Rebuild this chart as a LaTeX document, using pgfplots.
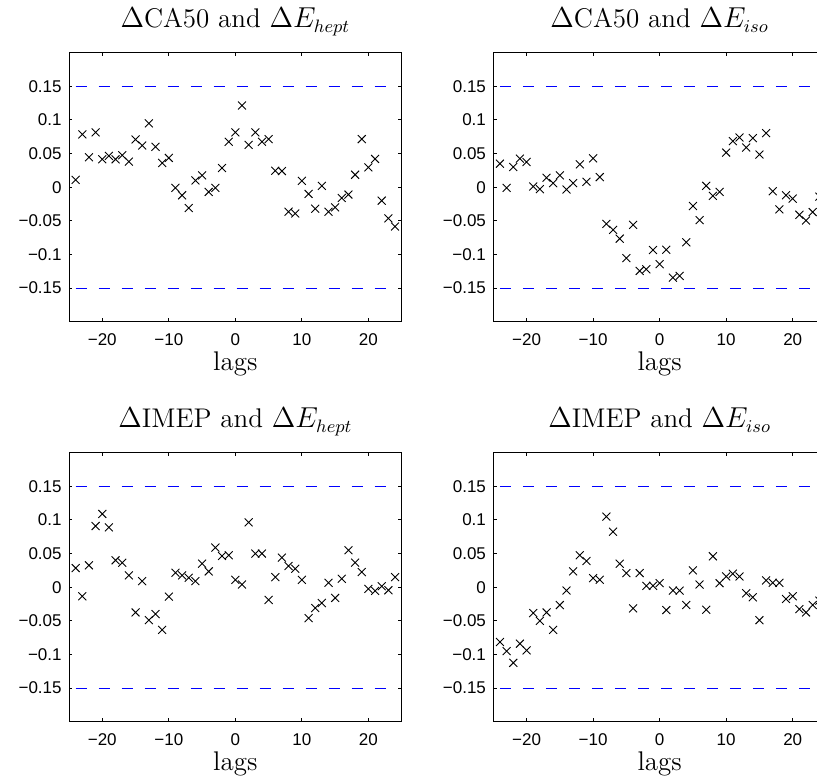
\documentclass[border=0pt]{standalone}
\usepackage{fontspec}
\usepackage{pgfplots}
\usepackage{pgfplotstable}
\pgfplotsset{compat=1.18}
\newfontfamily\tickfont{Liberation Sans}

\pgfplotstableread{
lag a b c d
-24 0.011 0.035 0.0285 -0.0815
-23 0.0785 -0.001 -0.0135 -0.095
-22 0.0445 0.030 0.0325 -0.1125
-21 0.0815 0.0425 0.091 -0.084
-20 0.0415 0.0375 0.109 -0.094
-19 0.0465 0.001 0.089 -0.0385
-18 0.0415 -0.003 0.040 -0.050
-17 0.0475 0.014 0.0365 -0.0375
-16 0.038 0.006 0.0175 -0.0635
-15 0.071 0.0175 -0.0375 -0.0265
-14 0.062 -0.0035 0.009 -0.005
-13 0.095 0.006 -0.049 0.0235
-12 0.060 0.034 -0.040 0.0475
-11 0.036 0.008 -0.0635 0.039
-10 0.0435 0.043 -0.014 0.0135
-9 -0.001 0.015 0.0215 0.011
-8 -0.012 -0.0545 0.0175 0.105
-7 -0.031 -0.0635 0.014 0.0825
-6 0.010 -0.0765 0.009 0.035
-5 0.0175 -0.1055 0.035 0.021
-4 -0.007 -0.056 0.0235 -0.0315
-3 -0.001 -0.1245 0.059 0.021
-2 0.0285 -0.122 0.0465 0.002
-1 0.0675 -0.0935 0.0475 0.002
0 0.0815 -0.1145 0.011 0.006
1 0.1215 -0.093 0.004 -0.034
2 0.063 -0.1345 0.0965 -0.005
3 0.0815 -0.132 0.050 -0.005
4 0.0675 -0.082 0.050 -0.0265
5 0.0715 -0.028 -0.019 0.025
6 0.0245 -0.049 0.015 0.004
7 0.024 0.002 0.044 -0.0335
8 -0.0365 -0.013 0.0315 0.046
9 -0.039 -0.007 0.0275 0.006
10 0.0095 0.0515 0.011 0.016
11 -0.010 0.0685 -0.046 0.020
12 -0.032 0.074 -0.031 0.016
13 0.002 0.059 -0.0235 -0.009
14 -0.0365 0.073 0.0065 -0.015
15 -0.030 0.0485 -0.016 -0.049
16 -0.016 0.0805 0.0125 0.010
17 -0.011 -0.006 0.055 0.0065
18 0.0185 -0.033 0.0365 0.0065
19 0.0715 -0.012 0.0225 -0.0175
20 0.0295 -0.017 -0.0025 -0.0135
21 0.042 -0.041 -0.0055 -0.0325
22 -0.020 -0.0495 0.0015 -0.0375
23 -0.0465 -0.037 -0.0045 -0.0265
24 -0.0585 -0.014 0.015 -0.020
}\lagdata

\pgfplotsset{
  every axis title/.style={at={(0.5,1)}, anchor=base, yshift=12.5pt, font=\fontsize{13.5}{15}\selectfont, inner sep=0pt},
  myax/.style={
    scale only axis, width=166.35pt, height=134.5pt,
    anchor=south west,
    xmin=-25, xmax=25, ymin=-0.2, ymax=0.2,
    axis line style={line width=0.5pt},
    every tick/.style={black, line width=0.5pt},
    major tick length=1.7pt,
    tick align=inside,
    xtick={-20,-10,0,10,20},
    xticklabels={−20,−10,0,10,20},
    ytick={-0.15,-0.1,-0.05,0,0.05,0.1,0.15},
    yticklabels={−0.15,−0.1,−0.05,0,0.05,0.1,0.15},
    ticklabel style={font=\tickfont\fontsize{8.5}{10}\selectfont},
    xticklabel style={anchor=base, yshift=-12pt, inner sep=0pt},
    yticklabel style={anchor=east, xshift=-3.5pt, inner sep=0pt},
    xlabel={lags},
    xlabel style={at={(axis description cs:0.5,0)}, anchor=base, yshift=-24.5pt, font=\fontsize{13.5}{15}\selectfont, inner sep=0pt},
    clip=false,
  },
  pts/.style={only marks, mark=x, mark size=2.8pt, black, mark options={line width=0.45pt}},
  lim/.style={blue, line width=0.5pt, dash pattern=on 5.5pt off 6pt},
}

\begin{document}
\begin{tikzpicture}
\useasboundingbox (0,0) rectangle (408.5pt,390.5pt);
\begin{axis}[myax, at={(34.5pt,229.65pt)}, title={$\Delta$CA50 and $\Delta E_{hept}$}]
\addplot[lim] coordinates {(-24,0.15) (24,0.15)};
\addplot[lim] coordinates {(-24,-0.15) (24,-0.15)};
\addplot[pts] table[x=lag, y=a] {\lagdata};
\end{axis}
\begin{axis}[myax, at={(246.65pt,229.65pt)}, title={$\Delta$CA50 and $\Delta E_{iso}$}]
\addplot[lim] coordinates {(-24,0.15) (24,0.15)};
\addplot[lim] coordinates {(-24,-0.15) (24,-0.15)};
\addplot[pts] table[x=lag, y=b] {\lagdata};
\end{axis}
\begin{axis}[myax, at={(34.5pt,29.65pt)}, title={$\Delta$IMEP and $\Delta E_{hept}$}]
\addplot[lim] coordinates {(-24,0.15) (24,0.15)};
\addplot[lim] coordinates {(-24,-0.15) (24,-0.15)};
\addplot[pts] table[x=lag, y=c] {\lagdata};
\end{axis}
\begin{axis}[myax, at={(246.65pt,29.65pt)}, title={$\Delta$IMEP and $\Delta E_{iso}$}]
\addplot[lim] coordinates {(-24,0.15) (24,0.15)};
\addplot[lim] coordinates {(-24,-0.15) (24,-0.15)};
\addplot[pts] table[x=lag, y=d] {\lagdata};
\end{axis}
\end{tikzpicture}
\end{document}
